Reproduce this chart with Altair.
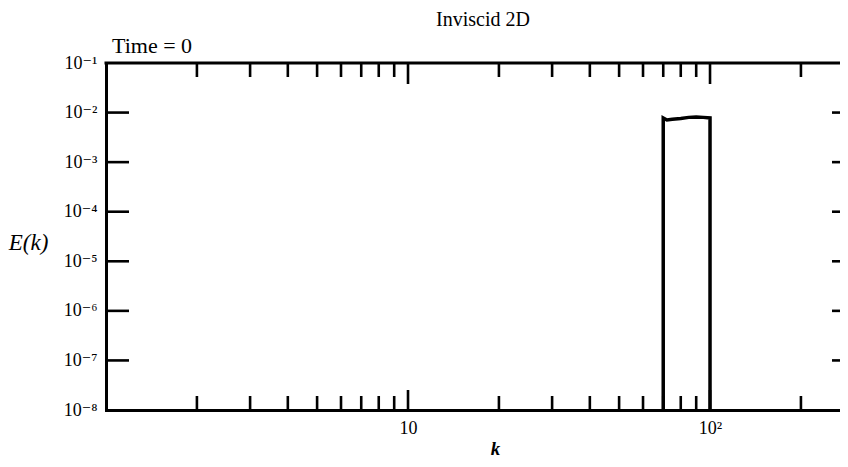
import altair as alt
import pandas as pd

# ---- text ----
title_text = "Inviscid 2D"
time_label = ["Time = 0"]
x_title = "k"
y_title = "E(k)"

# ---- spectrum E(k): box between k = 70 and k = 100 ----
k_vals = [70, 70, 72, 75, 80, 85, 90, 95, 100, 100]
e_vals = [1e-8, 0.0078, 0.0071, 0.0073, 0.0076, 0.0080, 0.0081, 0.0080, 0.0078, 1e-8]

# ---- axes ----
x_domain = [1, 282]
y_domain = [1e-8, 1e-1]
x_label_values = [10, 100]
y_label_values = [1e-1, 1e-2, 1e-3, 1e-4, 1e-5, 1e-6, 1e-7, 1e-8]
x_major_ticks = [10, 100]
x_minor_ticks = [2, 3, 4, 5, 6, 7, 8, 9, 20, 30, 40, 50, 60, 70, 80, 90, 200]
y_ticks = [1e-2, 1e-3, 1e-4, 1e-5, 1e-6, 1e-7]

W, H = 740, 347
FONT = "Liberation Serif, DejaVu Serif, serif"
SUP = ["", "\u00b9", "\u00b2", "\u00b3", "\u2074", "\u2075", "\u2076", "\u2077", "\u2078"]

sup_list = "[" + ",".join("'" + s + "'" for s in SUP) + "]"
y_label_expr = "'10\u207b' + " + sup_list + "[round(-log(datum.value)/LN10)]"
x_label_expr = "datum.value == 10 ? '10' : '10\u00b2'"

xs = alt.Scale(type="log", domain=x_domain, nice=False)
ys = alt.Scale(type="log", domain=y_domain, nice=False)

spec_df = pd.DataFrame({"k": k_vals, "E": e_vals, "i": list(range(len(k_vals)))})

line = alt.Chart(spec_df).mark_line(
    color="black", strokeWidth=3.5, strokeJoin="miter", strokeCap="butt"
).encode(
    x=alt.X("k:Q", scale=xs, axis=alt.Axis(
        values=x_label_values, labelExpr=x_label_expr,
        title=x_title, titleFontSize=19, titleFontStyle="italic",
        titleFontWeight="bold", titleX=389, titleY=38, titleBaseline="middle",
        titleAlign="center")),
    y=alt.Y("E:Q", scale=ys, axis=alt.Axis(
        values=y_label_values, labelExpr=y_label_expr,
        title=y_title, titleFontSize=23, titleFontStyle="italic",
        titleFontWeight="normal", titleAngle=0, titleX=-78, titleY=179,
        titleAlign="center", titleBaseline="middle")),
    order="i:Q",
)

top_frame = alt.Chart(pd.DataFrame({"a": [0]})).mark_rule(
    color="black", strokeWidth=3, strokeCap="square"
).encode(x=alt.value(0), x2=alt.value(W), y=alt.value(0))

minor_df = pd.DataFrame({"k": x_minor_ticks})
major_df = pd.DataFrame({"k": x_major_ticks})
yt_df = pd.DataFrame({"E": y_ticks})

def xticks(df, y0, y1):
    return alt.Chart(df).mark_rule(color="black", strokeWidth=2.6).encode(
        x=alt.X("k:Q", scale=xs), y=alt.value(y0), y2=alt.value(y1))

def yticks(x0, x1):
    return alt.Chart(yt_df).mark_rule(color="black", strokeWidth=2.6).encode(
        y=alt.Y("E:Q", scale=ys), x=alt.value(x0), x2=alt.value(x1))

time_txt = alt.Chart(pd.DataFrame({"t": time_label})).mark_text(
    font=FONT, fontSize=22, color="black", align="left", baseline="alphabetic"
).encode(text="t:N", x=alt.value(6), y=alt.value(-10))

chart = alt.layer(
    line,
    top_frame,
    xticks(minor_df, H, H - 14), xticks(major_df, H, H - 20),
    xticks(minor_df, 0, 14), xticks(major_df, 0, 21),
    yticks(0, 23), yticks(W - 14, W),
    time_txt,
).properties(
    width=W, height=H,
    title=alt.TitleParams(text=title_text, font=FONT, fontSize=20, fontWeight="normal",
                          anchor="middle", dx=7, offset=5, color="black"),
    padding={"left": 98, "top": 55, "right": -6, "bottom": 49},
    autosize=alt.AutoSizeParams(type="none"),
).configure_view(stroke=None).configure(background="white").configure_axis(
    ticks=False, grid=False, domain=True, domainWidth=3, domainColor="black",
    domainCap="square", labelFont=FONT, labelFontSize=18, labelColor="black",
    labelPadding=9, titleFont=FONT, titleColor="black", labelFlush=False,
    labelOverlap=False,
)

chart.save("out.html", embed_options={"renderer": "svg", "actions": False})
